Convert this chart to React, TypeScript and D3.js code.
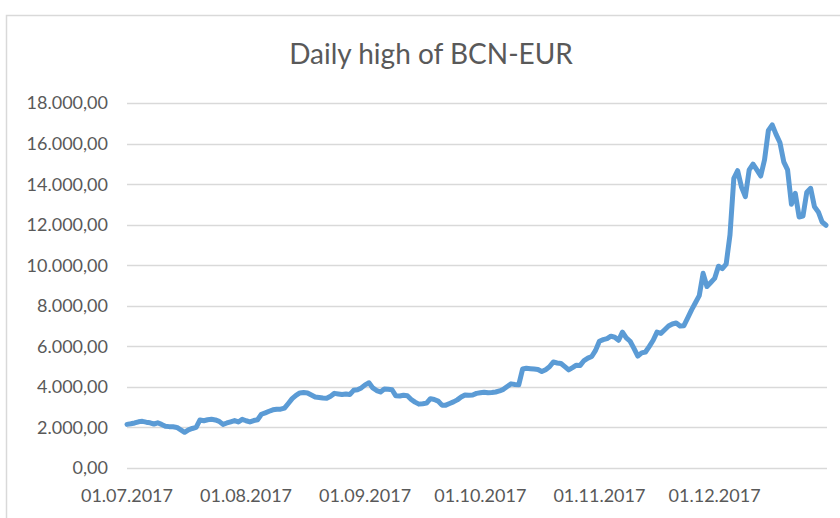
import React from "react";
import * as d3 from "d3";

const TITLE = "Daily high of BCN-EUR";
const START_DATE = "2017-07-01";
// Daily highs (EUR), one per day from 01.07.2017
const HIGHS: number[] = [
  2150, 2180, 2220, 2280, 2300, 2260, 2230, 2170, 2230, 2150,
  2060, 2040, 2030, 2000, 1880, 1760, 1880, 1950, 2000, 2370,
  2330, 2380, 2400, 2370, 2300, 2150, 2220, 2280, 2340, 2270,
  2400, 2330, 2270, 2340, 2380, 2650, 2720, 2800, 2870, 2900,
  2900, 2950, 3180, 3420, 3580, 3700, 3720, 3700, 3600, 3500,
  3480, 3450, 3440, 3540, 3680, 3650, 3620, 3650, 3620, 3830,
  3860, 3950, 4100, 4200, 3950, 3820, 3750, 3900, 3880, 3860,
  3560, 3550, 3590, 3560, 3380, 3250, 3150, 3170, 3200, 3420,
  3380, 3300, 3100, 3100, 3180, 3260, 3360, 3500, 3600, 3590,
  3600, 3680, 3710, 3740, 3710, 3720, 3750, 3800, 3880, 4020,
  4150, 4120, 4100, 4880, 4920, 4900, 4880, 4860, 4760, 4850,
  4990, 5230, 5180, 5150, 5000, 4840, 4950, 5070, 5060, 5300,
  5420, 5500, 5800, 6250, 6330, 6380, 6500, 6450, 6300, 6700,
  6420, 6250, 5900, 5520, 5680, 5720, 6000, 6300, 6700, 6640,
  6820, 7000, 7100, 7150, 7000, 7020, 7400, 7800, 8150, 8500,
  9600, 8950, 9150, 9350, 9950, 9830, 10050, 11500, 14280, 14660,
  13850, 13380, 14700, 14990, 14700, 14400, 15200, 16650, 16920, 16450,
  16050, 15100, 14700, 13010, 13540, 12380, 12420, 13600, 13790, 12880,
  12630, 12130, 11970,
];
const Y_TICKS = [0, 2000, 4000, 6000, 8000, 10000, 12000, 14000, 16000, 18000];
const X_TICKS = ["2017-07-01", "2017-08-01", "2017-09-01", "2017-10-01", "2017-11-01", "2017-12-01"];

const W = 840;
const H = 518;
const PLOT = { left: 127, right: 826, top: 103, bottom: 468 };
const TEXT = "#595959";
const GRID = "#d9d9d9";
const LINE = "#5b9bd5";
const FONT = "Lato, 'Open Sans', sans-serif";

const parse = d3.timeParse("%Y-%m-%d");
const locale = d3.formatLocale({ decimal: ",", thousands: ".", grouping: [3], currency: ["", " €"] });
const fmtY = locale.format(",.2f");
const fmtX = d3.timeFormat("%d.%m.%Y");

export default function App() {
  const start = parse(START_DATE) as Date;
  const data = HIGHS.map((v, i) => ({ date: d3.timeDay.offset(start, i), value: v }));
  const x = d3
    .scaleTime()
    .domain([start, data[data.length - 1].date])
    .range([PLOT.left, PLOT.right]);
  const y = d3.scaleLinear().domain([0, 18000]).range([PLOT.bottom, PLOT.top]);
  const line = d3
    .line<{ date: Date; value: number }>()
    .x((d) => x(d.date))
    .y((d) => y(d.value));

  return (
    <svg
      width={W}
      height={H}
      style={{ position: "absolute", left: 0, top: 0, background: "#fff" }}
      fontFamily={FONT}
    >
      <rect x={0} y={0} width={W} height={H} fill="#fff" />
      <rect x={6.5} y={15.5} width={W + 20} height={H + 20} fill="none" stroke={GRID} strokeWidth={1.5} />
      <text x={431} y={64} textAnchor="middle" fontSize={28} fill={TEXT} fontWeight={400}>
        {TITLE}
      </text>
      {Y_TICKS.map((t) => (
        <g key={t}>
          <line
            x1={PLOT.left}
            x2={PLOT.right + 1}
            y1={Math.round(y(t)) + 0.5}
            y2={Math.round(y(t)) + 0.5}
            stroke={GRID}
            strokeWidth={1.5}
          />
          <text
            x={108}
            y={y(t)}
            dy="0.36em"
            textAnchor="end"
            fontSize={18}
            fill={TEXT}
          >
            {fmtY(t)}
          </text>
        </g>
      ))}
      {X_TICKS.map((s) => {
        const d = parse(s) as Date;
        return (
          <text key={s} x={x(d)} y={502} textAnchor="middle" fontSize={18} fill={TEXT}>
            {fmtX(d)}
          </text>
        );
      })}
      <path
        d={line(data) ?? ""}
        fill="none"
        stroke={LINE}
        strokeWidth={5}
        strokeLinejoin="round"
        strokeLinecap="round"
      />
    </svg>
  );
}
